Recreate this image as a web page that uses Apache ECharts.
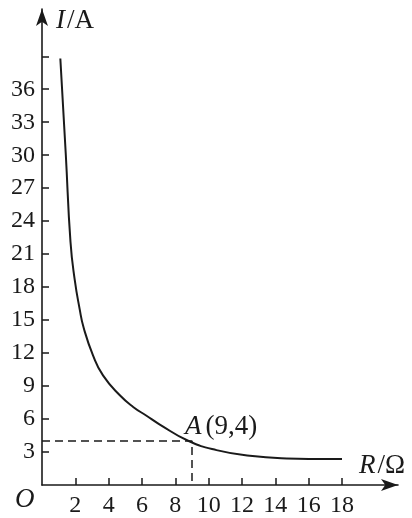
<!DOCTYPE html>
<html>
<head>
<meta charset="utf-8">
<style>
html,body{margin:0;padding:0;background:#fff;}
#c{width:412px;height:518px;}
</style>
<script src="https://cdn.jsdelivr.net/npm/echarts@6/dist/echarts.min.js"></script>
</head>
<body>
<div id="c"></div>
<script>
// Curve I(R)
const rValues = [1.1, 1.43, 1.71, 1.96, 2.26, 2.5, 3.06, 3.66, 4.67, 5.47, 6.27, 7.07, 8.8, 10.47, 12.47, 14.68, 16.5, 18];
const iValues = [38.8, 30, 22.1, 18.7, 16.0, 14.3, 11.8, 9.97, 8.16, 7.1, 6.3, 5.5, 4.0, 3.17, 2.66, 2.42, 2.37, 2.36];
const pointA = [9, 4];
const xTicks = [2, 4, 6, 8, 10, 12, 14, 16, 18];
const yTicks = [3, 6, 9, 12, 15, 18, 21, 24, 27, 30, 33, 36, 39];
const yLabels = [3, 6, 9, 12, 15, 18, 21, 24, 27, 30, 33, 36];

const chart = echarts.init(document.getElementById('c'));
const serif = '"Liberation Serif","DejaVu Serif",serif';
const ink = '#1a1a1a';

const curve = rValues.map((r, i) => [r, iValues[i]]);

chart.setOption({
  animation: false,
  backgroundColor: '#fff',
  grid: {left: 42, right: 14, top: 9, bottom: 31},
  xAxis: {
    type: 'value', min: 0, max: 21.36,
    splitLine: {show: false},
    axisLine: {show: true, lineStyle: {color: ink, width: 1.6}, symbol: ['none', 'arrow'], symbolSize: [9, 17]},
    axisTick: {show: true, inside: true, length: 7, customValues: xTicks, lineStyle: {color: ink, width: 1.5}},
    axisLabel: {customValues: xTicks, margin: 9, color: ink, fontFamily: serif, fontSize: 24}
  },
  yAxis: {
    type: 'value', min: 0, max: 43.3,
    splitLine: {show: false},
    axisLine: {show: true, lineStyle: {color: ink, width: 1.6}, symbol: ['none', 'arrow'], symbolSize: [9, 17]},
    axisTick: {show: true, inside: true, length: 7, customValues: yTicks, lineStyle: {color: ink, width: 1.5}},
    axisLabel: {customValues: yLabels, margin: 7, color: ink, fontFamily: serif, fontSize: 24}
  },
  series: [
    {
      type: 'line', data: curve, smooth: 0.5, symbol: 'none',
      lineStyle: {color: ink, width: 2}
    },
    {
      type: 'line', data: [[0, pointA[1]], pointA, [pointA[0], 0]], symbol: 'none',
      lineStyle: {color: ink, width: 1.5, type: [8, 5]}
    },
    {
      type: 'scatter', data: [pointA], symbolSize: 0.1,
      itemStyle: {color: ink},
      label: {
        show: true, position: [-7, -28], color: ink, opacity: 1,
        formatter: () => '{i|A}{n|(9,4)}',
        rich: {
          i: {fontFamily: serif, fontStyle: 'italic', fontSize: 27, color: ink, padding: [0, 4, 0, 0]},
          n: {fontFamily: serif, fontSize: 27, color: ink}
        }
      }
    }
  ],
  graphic: [
    {type: 'text', x: 56, y: 7, style: {rich: {
      i: {fontFamily: serif, fontStyle: 'italic', fontSize: 27, fill: ink, padding: [0, 2, 0, 0]},
      n: {fontFamily: serif, fontSize: 27, fill: ink}
    }, text: '{i|I}{n|/A}'}},
    {type: 'text', x: 359, y: 452, style: {rich: {
      i: {fontFamily: serif, fontStyle: 'italic', fontSize: 27, fill: ink, padding: [0, 2, 0, 0]},
      n: {fontFamily: serif, fontSize: 27, fill: ink}
    }, text: '{i|R}{n|/Ω}'}},
    {type: 'text', x: 15, y: 486, style: {text: 'O', fontFamily: serif, fontStyle: 'italic', fontSize: 27, fill: ink}}
  ]
});
</script>
</body>
</html>
